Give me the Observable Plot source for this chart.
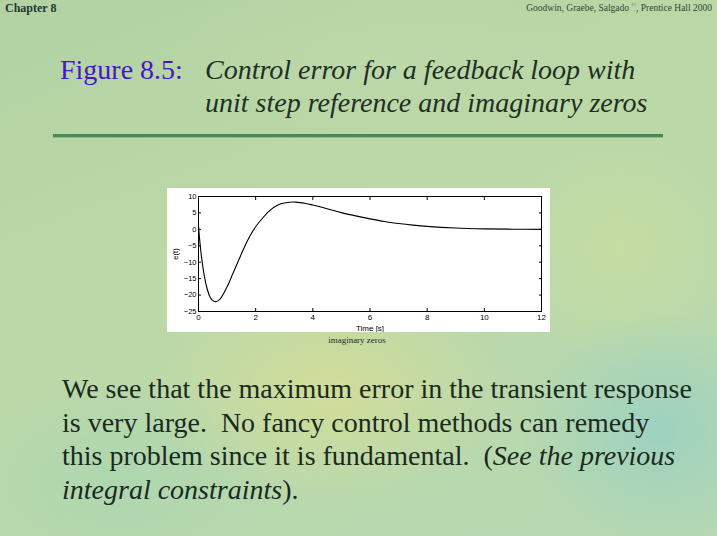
<!DOCTYPE html>
<html>
<head>
<meta charset="utf-8">
<script src="https://cdn.jsdelivr.net/npm/d3@7"></script>
<script src="https://cdn.jsdelivr.net/npm/@observablehq/plot@0.6"></script>
<style>
  html, body { margin: 0; padding: 0; }
  body {
    width: 717px; height: 536px; overflow: hidden; position: relative;
    font-family: "Liberation Serif", "Times New Roman", serif;
    background:
      radial-gradient(ellipse 260px 160px at 330px 390px, rgba(214,222,150,0.85), rgba(214,222,150,0) 70%),
      radial-gradient(ellipse 200px 170px at 660px 430px, rgba(150,208,196,0.8), rgba(150,208,196,0) 70%),
      radial-gradient(ellipse 240px 140px at 120px 480px, rgba(170,214,176,0.8), rgba(170,214,176,0) 70%),
      radial-gradient(ellipse 300px 120px at 380px 60px, rgba(190,216,170,0.8), rgba(190,216,170,0) 70%),
      radial-gradient(ellipse 180px 160px at 620px 250px, rgba(200,222,160,0.8), rgba(200,222,160,0) 70%),
      linear-gradient(160deg, #b2d2a4 0%, #bcd8a6 40%, #b6d8b2 100%);
  }
  .abs { position: absolute; white-space: nowrap; }
  #chap { left: 5px; top: 1px; font-size: 12px; font-weight: bold; color: #203a30; }
  #copy { right: 5px; top: 2px; font-size: 9.5px; color: #304838; }
  #fig { left: 60px; top: 54px; font-size: 28px; color: #4a14c8; }
  #t1 { left: 205px; top: 54px; font-size: 28px; font-style: italic; color: #1e3024; }
  #t2 { left: 205px; top: 87px; font-size: 28px; font-style: italic; color: #1e3024; }
  #rule { left: 53px; top: 134px; width: 610px; height: 3px; background: #4d8656; }
  #rule2 { left: 53px; top: 137px; width: 610px; height: 1px; background: rgba(120,170,120,0.6); }
  #chart { left: 167px; top: 188px; width: 383px; height: 144px; background: #fff; }
  #cap { left: 357px; top: 335px; transform: translateX(-50%); font-size: 9px; color: #203028; }
  #body { left: 62px; top: 372px; font-size: 28px; line-height: 33.5px; color: #1a2a1e; }
</style>
</head>
<body>
<div class="abs" id="chap">Chapter 8</div>
<div class="abs" id="copy">Goodwin, Graebe, Salgado <sup style="font-size:6px">©</sup>, Prentice Hall 2000</div>
<div class="abs" id="fig">Figure 8.5:</div>
<div class="abs" id="t1">Control error for a feedback loop with</div>
<div class="abs" id="t2">unit step reference and imaginary zeros</div>
<div class="abs" id="rule"></div>
<div class="abs" id="rule2"></div>
<div class="abs" id="chart"></div>
<div class="abs" id="cap">imaginary zeros</div>
<div class="abs" id="body">We see that the maximum error in the transient response<br>is very large.&nbsp; No fancy control methods can remedy<br>this problem since it is fundamental.&nbsp; (<i>See the previous</i><br><i>integral constraints</i>).</div>
<script>
const timeValues = [0, 0.05, 0.1, 0.2, 0.3, 0.4, 0.5, 0.6, 0.7, 0.8, 1.0, 1.2, 1.4, 1.6, 1.8, 2.0, 2.2, 2.5, 2.8, 3.0, 3.4, 3.8, 4.0, 4.5, 5.0, 5.5, 6.0, 6.5, 7.0, 7.5, 8.0, 9.0, 10.0, 11.0, 12.0];
const errorValues = [1, -4, -8, -14, -18, -20.5, -21.7, -22, -21.6, -20.7, -17.5, -13.5, -9.5, -5.5, -2, 0.8, 3, 5.8, 7.5, 8, 8.3, 7.8, 7.4, 6.3, 5.1, 4.1, 3.2, 2.4, 1.8, 1.3, 0.9, 0.4, 0.15, 0.05, 0];
const xTicks = [0, 2, 4, 6, 8, 10, 12];
const yTicks = [10, 5, 0, -5, -10, -15, -20, -25];

const data = timeValues.map((t, i) => ({t, e: errorValues[i]}));

const plot = Plot.plot({
  width: 383, height: 144,
  marginLeft: 31, marginRight: 9, marginTop: 8, marginBottom: 21,
  style: {fontFamily: "'Liberation Sans', Arial, sans-serif", fontSize: "8px", background: "white", color: "black"},
  x: {domain: [0, 12]},
  y: {domain: [-25, 10]},
  marks: [
    Plot.axisX({ticks: xTicks, tickSize: -3, tickPadding: 6, label: "Time [s]", labelAnchor: "center", labelArrow: "none", labelOffset: 19, fontSize: 8}),
    Plot.axisX({ticks: xTicks, anchor: "top", tickSize: -3, tickFormat: () => "", label: null}),
    Plot.axisY({ticks: yTicks, tickSize: -3, tickPadding: 5, label: "e(t)", labelAnchor: "center", labelArrow: "none", labelOffset: 26, fontSize: 7.5}),
    Plot.axisY({ticks: yTicks, anchor: "right", tickSize: -3, tickFormat: () => "", label: null}),
    Plot.frame({stroke: "black", strokeWidth: 1}),
    Plot.line(data, {x: "t", y: "e", stroke: "black", strokeWidth: 1.1, curve: "catmull-rom"})
  ]
});
document.getElementById("chart").appendChild(plot);
</script>
</body>
</html>
